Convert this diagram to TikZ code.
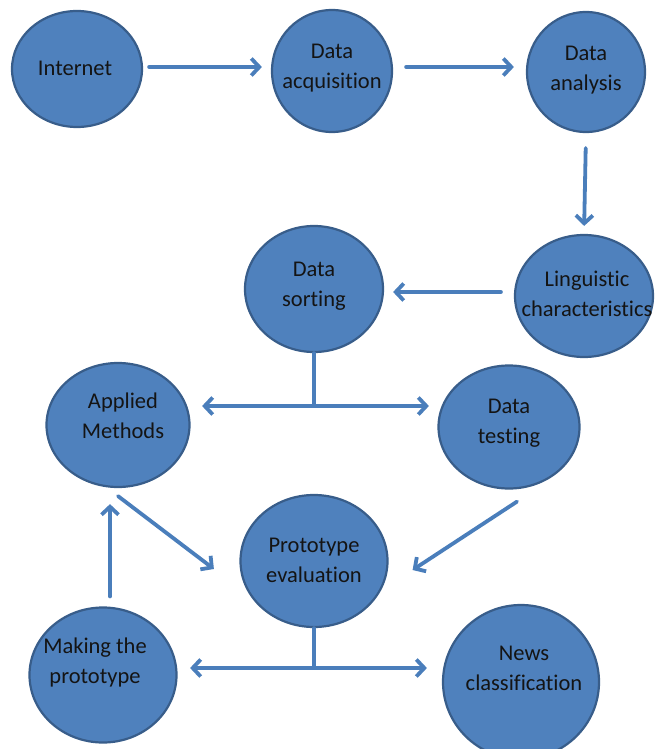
\documentclass[tikz,border=0pt]{standalone}
\usepackage{fontspec}
\setmainfont{Carlito}[Ligatures=NoCommon]
\usetikzlibrary{shapes.geometric,arrows.meta,calc}
\definecolor{stagefill}{HTML}{4F81BD}
\definecolor{stageline}{HTML}{385D8A}
\definecolor{flowline}{HTML}{4A7EBB}
\tikzset{
  stage/.style={ellipse, draw=stageline, line width=2.2pt, fill=stagefill, inner sep=0pt},
  caption/.style={align=center, text=black!92, font=\fontsize{22.5}{30}\selectfont},
  flow/.style={draw=flowline, line width=3.8pt, line cap=round}
}
\begin{document}
\begin{tikzpicture}[x=1pt, y=-1pt, >={Straight Barb[length=8pt,width=17pt]}]
        \useasboundingbox (0,0) rectangle (654,749);
        \node [stage, minimum width=130pt, minimum height=116pt, label={[caption, xshift=-2pt, yshift=1pt]center:Internet}] (inet) at (77,69) {};
        \node [stage, minimum width=120pt, minimum height=122pt, label={[caption, yshift=3pt]center:Data\\acquisition}] (acq) at (332,71) {};
        \node [stage, minimum width=118pt, minimum height=120pt, label={[caption, yshift=1.5pt]center:Data\\analysis}] (ana) at (586,72) {};
        \node [stage, minimum width=138pt, minimum height=122pt, label={[caption, xshift=3pt, yshift=2pt]center:Linguistic\\characteristics}] (ling) at (584,296) {};
        \node [stage, minimum width=138pt, minimum height=126pt, label={[caption, yshift=3pt]center:Data\\sorting}] (sort) at (314,289) {};
        \node [stage, minimum width=143pt, minimum height=124pt, label={[caption, xshift=5pt, yshift=9.5pt]center:Applied\\Methods}] (appl) at (118,425) {};
        \node [stage, minimum width=141pt, minimum height=123pt, label={[caption, yshift=4pt]center:Data\\testing}] (test) at (509,427) {};
        \node [stage, minimum width=147pt, minimum height=132pt, label={[caption, yshift=1pt]center:Prototype\\evaluation}] (proto) at (314,561) {};
        \node [stage, minimum width=147pt, minimum height=135pt, label={[caption, xshift=-8pt, yshift=12.5pt]center:Making the\\prototype}] (make) at (103,675) {};
        \node [stage, minimum width=156pt, minimum height=154pt, label={[caption, xshift=3pt, yshift=14pt]center:News\\classification}] (news) at (521,682) {};
        \coordinate (j1) at (314,406);
        \coordinate (j2) at (314,668);
        \draw [flow, ->, shorten <=6pt, shorten >=9pt] ([yshift=2pt]inet.east) -- ([yshift=2pt]inet.east -| acq.west);
        \draw [flow, ->, shorten <=13pt, shorten >=12pt] ([yshift=4pt]acq.east) -- ([yshift=4pt]acq.east -| ana.west);
        \draw [flow, ->, shorten <=15pt, shorten >=8pt] (ana.south) -- (ling.north);
        \draw [flow, ->, shorten <=13pt, shorten >=9pt] ([yshift=4pt]ling.west) -- ([yshift=4pt]ling.west -| sort.east);
        \draw [flow] (sort.south) -- (j1);
        \draw [flow, <->, shorten <=11.5pt, shorten >=8.5pt] (j1 -| appl.east) -- (j1 -| test.west);
        \draw [flow, ->] ($(appl.south)+(0,8)$) -- ($(proto.west)+(-25.5,8)$);
        \draw [flow, ->] ($(make.north)+(7,-10)$) -- ($(appl.south)+(-8,16)$);
        \draw [flow, ->] ($(test.south)+(8,12)$) -- ($(proto.east)+(24,9)$);
        \draw [flow] (proto.south) -- (j2);
        \draw [flow, <->, shorten <=12.5pt, shorten >=15pt] (j2 -| make.east) -- (j2 -| news.west);
    \end{tikzpicture}
\end{document}
